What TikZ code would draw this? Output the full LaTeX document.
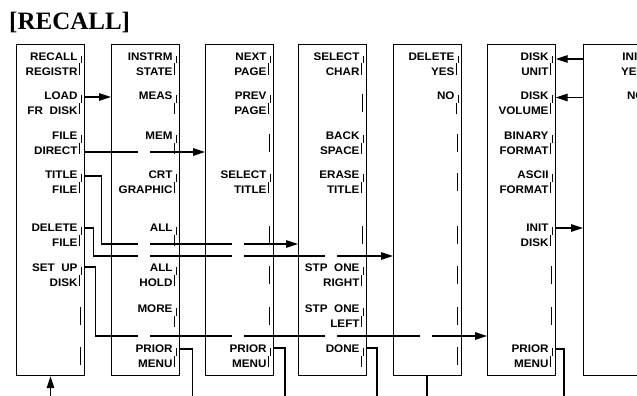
\documentclass[tikz,border=0pt]{standalone}
\usepackage{fontspec}
\setmainfont{Liberation Serif}
\newfontfamily\keyfont[FakeStretch=1.06]{Liberation Sans}
\usetikzlibrary{arrows.meta, calc, positioning}

\tikzset{
	menubox/.style={
			draw=black,
			line width=1.2pt,
			anchor=north west,
			minimum width=67.5pt,
			minimum height=331pt,
			inner sep=0pt
		},
	keylabel/.style={
			font=\keyfont\bfseries\fontsize{11}{14.5}\selectfont,
			align=right,
			anchor=north east,
			inner sep=0pt
		},
	keybar/.style={
			line width=1.2pt
		},
	wire/.style={
			line width=1.15pt
		},
	wirearrow/.style={
			wire,
			-{Triangle[length=12pt,width=7.5pt]}
		}
}

% softkey with label: #1 box, #2 slot, #3 text
\newcommand{\softkey}[3]{%
  \pgfmathsetmacro{\ky}{{9,48,88,127,180,220,261,301}[#2-1]}%
  \node[keylabel] (#1-k#2) at ($(#1.north east)+(-7,\ky)$) {#3};
  \draw[keybar] ($(#1.north east)+(-3.5,\ky+3)$) -- ++(0,7.5) ++(-1.5,0) -- ++(0,11.5);
}
% softkey without label
\newcommand{\nokey}[2]{%
  \pgfmathsetmacro{\ky}{{9,48,88,127,180,220,261,301}[#2-1]}%
  \draw[keybar] ($(#1.north east)+(-4.5,\ky+2)$) -- ++(0,18);
}

\begin{document}
\begin{tikzpicture}[x=1pt, y=-1pt]
\useasboundingbox (0,0) rectangle (637,396);
\clip (0,0) rectangle (637,396);

\node[font=\bfseries\fontsize{25}{30}\selectfont, anchor=base west, inner sep=0pt] (title) at (9,29.5) {[RECALL]};

\node[menubox] (b1) at (16,44) {};
\node[menubox] (b2) at (111,44) {};
\node[menubox] (b3) at (205,44) {};
\node[menubox] (b4) at (298,44) {};
\node[menubox] (b5) at (393,44) {};
\node[menubox] (b6) at (487,44) {};
\node[menubox] (b7) at (583,44) {};

% recall menu
\softkey{b1}{1}{RECALL\\REGISTR}
\softkey{b1}{2}{LOAD\\FR\hspace{0.6em}DISK}
\softkey{b1}{3}{FILE\\DIRECT}
\softkey{b1}{4}{TITLE\\FILE}
\softkey{b1}{5}{DELETE\\FILE}
\softkey{b1}{6}{SET\hspace{0.6em}UP\\DISK}
\nokey{b1}{7}
\nokey{b1}{8}

% load menu
\softkey{b2}{1}{INSTRM\\STATE}
\softkey{b2}{2}{MEAS}
\softkey{b2}{3}{MEM}
\softkey{b2}{4}{CRT\\GRAPHIC}
\softkey{b2}{5}{ALL}
\softkey{b2}{6}{ALL\\HOLD}
\softkey{b2}{7}{MORE}
\softkey{b2}{8}{PRIOR\\MENU}

% directory
\softkey{b3}{1}{NEXT\\PAGE}
\softkey{b3}{2}{PREV\\PAGE}
\nokey{b3}{3}
\softkey{b3}{4}{SELECT\\TITLE}
\nokey{b3}{5}
\nokey{b3}{6}
\nokey{b3}{7}
\softkey{b3}{8}{PRIOR\\MENU}

% title entry
\softkey{b4}{1}{SELECT\\CHAR}
\nokey{b4}{2}
\softkey{b4}{3}{BACK\\SPACE}
\softkey{b4}{4}{ERASE\\TITLE}
\nokey{b4}{5}
\softkey{b4}{6}{STP\hspace{0.6em}ONE\\RIGHT}
\softkey{b4}{7}{STP\hspace{0.6em}ONE\\LEFT}
\softkey{b4}{8}{DONE}

% delete
\softkey{b5}{1}{DELETE\\YES}
\softkey{b5}{2}{NO}
\nokey{b5}{3}
\nokey{b5}{4}
\nokey{b5}{5}
\nokey{b5}{6}
\nokey{b5}{7}
\nokey{b5}{8}

% set up disk
\softkey{b6}{1}{DISK\\UNIT}
\softkey{b6}{2}{DISK\\VOLUME}
\softkey{b6}{3}{BINARY\\FORMAT}
\softkey{b6}{4}{ASCII\\FORMAT}
\softkey{b6}{5}{INIT\\DISK}
\nokey{b6}{6}
\nokey{b6}{7}
\softkey{b6}{8}{PRIOR\\MENU}

% init disk (cut off)
\softkey{b7}{1}{INIT\\YES}
\softkey{b7}{2}{NO}

% menu links
\draw[wirearrow] (b1.east |- 0,97) -- (b2.west |- 0,97);

\draw[wire] (b1.east |- 0,152) -- ($(b2.west |- 0,152)+(27,0)$);
\draw[wirearrow] ($(b2.west |- 0,152)+(39,0)$) -- (b3.west |- 0,152);

\draw[wire] (b1.east |- 0,176) -| (101.5,244) -- ($(b2.west |- 0,244)+(27,0)$);
\draw[wire] ($(b2.west |- 0,244)+(39,0)$) -- ($(b3.west |- 0,244)+(27,0)$);
\draw[wirearrow] ($(b3.west |- 0,244)+(39,0)$) -- (b4.west |- 0,244);

\draw[wire] (b1.east |- 0,228) -| (93.5,256) -- ($(b2.west |- 0,256)+(27,0)$);
\draw[wire] ($(b2.west |- 0,256)+(39,0)$) -- ($(b3.west |- 0,256)+(27,0)$);
\draw[wire] ($(b3.west |- 0,256)+(39,0)$) -- ($(b4.west |- 0,256)+(27,0)$);
\draw[wirearrow] ($(b4.west |- 0,256)+(39,0)$) -- (b5.west |- 0,256);

\draw[wire] (b1.east |- 0,267) -| (95.5,336) -- ($(b2.west |- 0,336)+(27,0)$);
\draw[wire] ($(b2.west |- 0,336)+(39,0)$) -- ($(b3.west |- 0,336)+(27,0)$);
\draw[wire] ($(b3.west |- 0,336)+(39,0)$) -- ($(b4.west |- 0,336)+(27,0)$);
\draw[wire] ($(b4.west |- 0,336)+(39,0)$) -- ($(b5.west |- 0,336)+(27,0)$);
\draw[wirearrow] ($(b5.west |- 0,336)+(39,0)$) -- (b6.west |- 0,336);

\draw[wirearrow] (b7.west |- 0,59) -- (b6.east |- 0,59);
\draw[wirearrow] (b7.west |- 0,97.5) -- (b6.east |- 0,97.5);
\draw[wirearrow] (b6.east |- 0,228) -- (b7.west |- 0,228);

% returns
\coordinate (in1) at (50.5,396);
\coordinate (out2) at (192.5,396);
\coordinate (out3) at (285,396);
\coordinate (out4) at (377,396);
\coordinate (out5) at (427,396);
\coordinate (out6) at (564,396);

\draw[wirearrow] (in1) -- (in1 |- b1.south);
\draw[wire] (b2.east |- 0,349) -| (out2);
\draw[wire] (b3.east |- 0,348) -| (out3);
\draw[wire] (b4.east |- 0,348) -| (out4);
\draw[wire] (out5 |- b5.south) -- (out5);
\draw[wire] (b6.east |- 0,349) -| (out6);

\end{tikzpicture}
\end{document}
